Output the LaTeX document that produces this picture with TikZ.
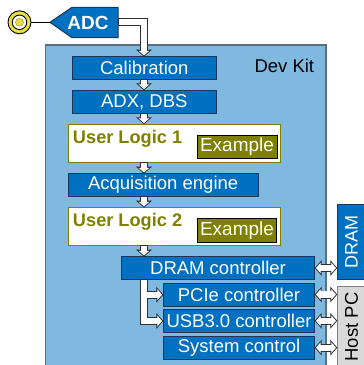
\documentclass[tikz,border=0pt]{standalone}
\usepackage{fontspec}
\setmainfont{Liberation Sans}
\usetikzlibrary{arrows.meta}
\definecolor{kitblue}{HTML}{7FB9DF}
\definecolor{blockblue}{HTML}{0070C0}
\definecolor{blockedge}{HTML}{17375E}
\definecolor{olive}{HTML}{808000}
\definecolor{ringyellow}{HTML}{E8E040}
\definecolor{hostgray}{HTML}{D9D9D9}
\definecolor{kitedge}{HTML}{5A6E7E}
\definecolor{arrowedge}{HTML}{303030}
\tikzset{
  every node/.style={outer sep=0pt},
  blockbox/.style={draw=blockedge,line width=1pt,fill=blockblue,text=white,inner sep=0pt,font=\fontsize{18.5}{20}\selectfont,anchor=north west},
  logicbox/.style={draw=olive,line width=1pt,fill=white,inner sep=0pt,anchor=north west},
  logictext/.style={text=olive,font=\bfseries\fontsize{18.2}{20}\selectfont,inner sep=0pt,anchor=west},
  examplebox/.style={draw=black,line width=1pt,fill=olive,text=white,inner sep=0pt,font=\fontsize{19}{20}\selectfont,anchor=north west},
  sidebox/.style={line width=1pt,inner sep=0pt,anchor=north west,font=\fontsize{18}{20}\selectfont},
  arrowout/.style={line width=8pt,draw=arrowedge,-{Triangle[length=7pt,width=15.5pt]}},
  arrowin/.style={line width=6.3pt,draw=white,shorten >=1.3pt,shorten <=0.6pt,-{Triangle[length=4.6pt,width=10.5pt]}},
  dblout/.style={line width=8pt,draw=arrowedge,{Triangle[length=7pt,width=15.5pt]}-{Triangle[length=7pt,width=15.5pt]}},
  dblin/.style={line width=6.3pt,draw=white,shorten >=1.3pt,shorten <=1.3pt,{Triangle[length=4.6pt,width=10.5pt]}-{Triangle[length=4.6pt,width=10.5pt]}},
}
\newcommand{\blockarrow}[1]{\draw[arrowout] #1; \draw[arrowin] #1;}
\newcommand{\dblarrow}[1]{\draw[dblout] #1; \draw[dblin] #1;}
\begin{document}
\begin{tikzpicture}[x=1pt,y=-1pt]
\useasboundingbox (0,0) rectangle (364,365);
\begin{scope}
\clip (0,0) rectangle (364,365);
\node[draw=kitedge,line width=1.2pt,fill=kitblue,minimum width=280.3pt,minimum height=340pt,inner sep=0pt,anchor=north west] (kit) at (45.7,45) {};
\node[sidebox,draw=blockedge,fill=blockblue,text=white,minimum width=30pt,minimum height=75.3pt] (dram) at (337.3,204) {};
\node[sidebox,draw=gray,fill=hostgray,minimum width=30pt,minimum height=90pt] (host) at (337.3,286.7) {};
\end{scope}
\node[text=white,rotate=90,font=\fontsize{18}{20}\selectfont,inner sep=0pt] (dramlabel) at (351.5,241.5) {DRAM};
\node[text=black,rotate=90,font=\fontsize{18.5}{20}\selectfont,inner sep=0pt] (hostlabel) at (351.5,327) {Host PC};
\node[inner sep=0pt,font=\fontsize{18.5}{20}\selectfont,anchor=west] (kitlabel) at (254.5,65.5) {Dev Kit};
% ADC
\node[circle,draw=black,line width=0.9pt,fill=ringyellow,minimum size=23pt,inner sep=0pt] (sma) at (19.5,22.3) {};
\node[circle,draw=black,line width=0.9pt,fill=white,minimum size=14.5pt,inner sep=0pt] (smamid) at (19.5,22.3) {};
\node[circle,draw=black!40!ringyellow,line width=0.4pt,fill=ringyellow,minimum size=8pt,inner sep=0pt] (smain) at (19.5,22.3) {};
\coordinate (adctip) at (50,22.3);
\draw[draw=blockedge,line width=1pt,fill=blockblue] (adctip) -- (72,7.3) -- (118,7.3) -- (118,37.7) -- (72,37.7) -- cycle;
\node[text=white,inner sep=0pt,font=\bfseries\fontsize{19}{22}\selectfont] (adc) at (88,22.5) {ADC};
\draw[black,line width=0.8pt] (sma.east) -- (adctip);
% blocks
\node[blockbox,minimum width=144pt,minimum height=22.6pt] (cal) at (72.3,56.7) {Calibration};
\node[blockbox,minimum width=144pt,minimum height=23pt] (adx) at (72.3,90.3) {ADX, DBS};
\node[logicbox,minimum width=212pt,minimum height=38pt] (ul1) at (68.3,124.3) {};
\node[logictext] (ul1t) at (73,138.5) {User Logic 1};
\node[examplebox,minimum width=80pt,minimum height=22.6pt] (ex1) at (197,135.7) {\raisebox{-1.5pt}{Example}};
\node[blockbox,minimum width=189.7pt,minimum height=23pt] (acq) at (68.3,173.7) {\raisebox{-1.2pt}{Acquisition engine}};
\node[logicbox,minimum width=212pt,minimum height=37.3pt] (ul2) at (68.3,207.7) {};
\node[logictext] (ul2t) at (73,221.5) {User Logic 2};
\node[examplebox,minimum width=79.4pt,minimum height=23.7pt] (ex2) at (197.3,218.3) {\raisebox{-1.5pt}{Example}};
\node[blockbox,minimum width=193.4pt,minimum height=22.6pt] (dc) at (121.3,256.7) {DRAM controller};
\node[blockbox,minimum width=151.4pt,minimum height=23pt] (pcie) at (163.3,283) {PCIe controller};
\node[blockbox,minimum width=151.4pt,minimum height=23pt] (usb) at (163.3,309.3) {USB3.0 controller};
\node[blockbox,minimum width=151.4pt,minimum height=23.3pt] (sys) at (163.3,336) {System control};
% vertical arrows
\coordinate (adcout) at (118,22);
\coordinate (adcbend) at (144,22);
\blockarrow{(adcout) -- (adcbend) -- (adcbend |- cal.north)}
\blockarrow{(144,79.3) -- (144,90.3)}
\blockarrow{(144,113.3) -- (144,124.3)}
\blockarrow{(144,162.3) -- (144,173.7)}
\blockarrow{(144,196.7) -- (144,207.7)}
\blockarrow{(144,245) -- (144,256.7)}
% branch
\draw[arrowout] (144,279.3) -- (144,321) -- (usb.west |- 144,321);
\draw[arrowout] (144,294.7) -- (pcie.west |- 144,294.7);
\draw[arrowin] (144,279.3) -- (144,321) -- (usb.west |- 144,321);
\draw[arrowin] (144,294.7) -- (pcie.west |- 144,294.7);
% bidirectional
\dblarrow{(dc.east) -- (dc.east -| dram.west)}
\dblarrow{(pcie.east) -- (pcie.east -| host.west)}
\dblarrow{(usb.east) -- (usb.east -| host.west)}
\dblarrow{(sys.east) -- (sys.east -| host.west)}
\end{tikzpicture}
\end{document}
